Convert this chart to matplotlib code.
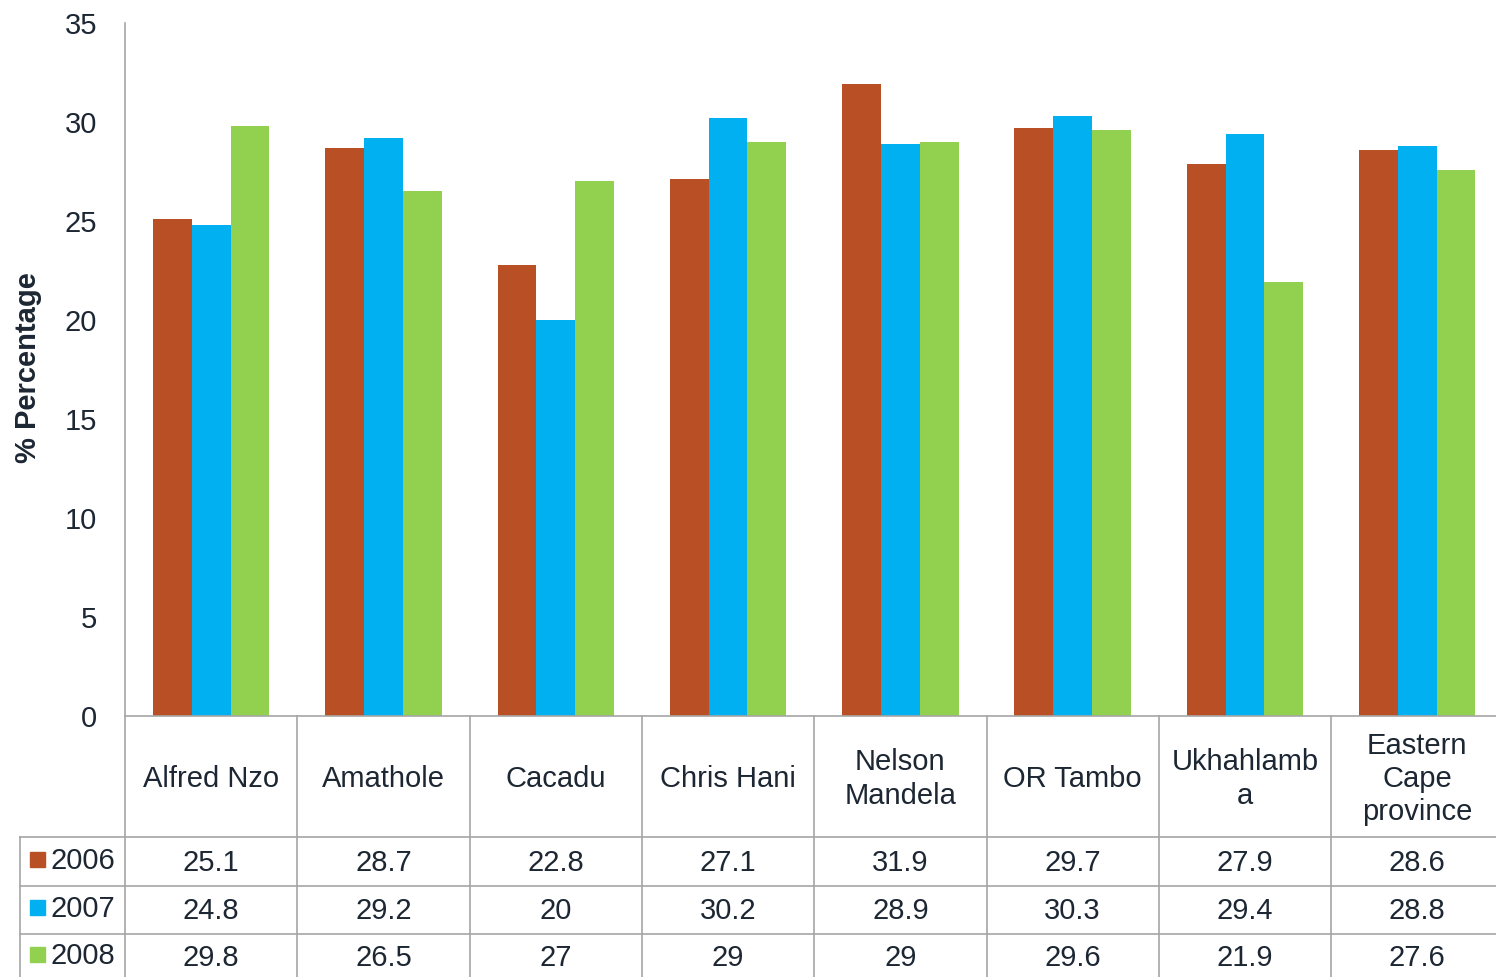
import numpy as np
import matplotlib.pyplot as plt
from matplotlib.transforms import blended_transform_factory
from matplotlib.patches import Rectangle

plt.rcParams['font.family'] = ['Liberation Sans', 'DejaVu Sans']

districts = ["Alfred Nzo", "Amathole", "Cacadu", "Chris Hani", "Nelson\nMandela",
             "OR Tambo", "Ukhahlamb\na", "Eastern\nCape\nprovince"]
years = ["2006", "2007", "2008"]
pct_2006 = [25.1, 28.7, 22.8, 27.1, 31.9, 29.7, 27.9, 28.6]
pct_2007 = [24.8, 29.2, 20, 30.2, 28.9, 30.3, 29.4, 28.8]
pct_2008 = [29.8, 26.5, 27, 29, 29, 29.6, 21.9, 27.6]
yticks = [0, 5, 10, 15, 20, 25, 30, 35]

colors = ["#B84F25", "#00B0F0", "#92D050"]
text_color = "#1c2733"
line_color = "#a6a6a6"

W, H = 1496, 977
fig = plt.figure(figsize=(W / 100, H / 100), dpi=100)

# plot area in pixels: left 125, top 23, bottom 716; the last column runs past the edge
col_px = 172.3
right_px = 125 + col_px * len(districts)
ax = fig.add_axes([125 / W, (H - 716) / H, (right_px - 125) / W, (716 - 23) / H])

x = np.arange(len(districts))
bw = 0.225
for i, vals in enumerate([pct_2006, pct_2007, pct_2008]):
    ax.bar(x + (i - 1) * bw, vals, width=bw, color=colors[i], linewidth=0)

ax.set_xlim(-0.5, len(districts) - 0.5)
ax.set_ylim(0, 35)
ax.set_yticks(yticks)
ax.set_xticks([])
ax.tick_params(axis='y', length=0, pad=20, labelsize=21, labelcolor=text_color)
for s in ["top", "right"]:
    ax.spines[s].set_visible(False)
ax.spines["left"].set_color(line_color)
ax.spines["bottom"].set_color(line_color)
ax.spines["left"].set_linewidth(1.2)
ax.spines["bottom"].set_linewidth(1.2)

fig.text(28 / W, 1 - 368 / H, "% Percentage", rotation=90, ha="center", va="center",
         fontsize=21, fontweight="bold", color=text_color)

# data table under the axis
tr = blended_transform_factory(ax.transData, fig.transFigure)
left_edge = -0.5 - (125 - 20) / col_px


def fy(py):
    return 1 - py / H


def hline(py, x0, x1):
    ax.plot([x0, x1], [fy(py), fy(py)], transform=tr, color=line_color,
            lw=1.2, clip_on=False)


def vline(xd, y0, y1):
    ax.plot([xd, xd], [fy(y0), fy(y1)], transform=tr, color=line_color,
            lw=1.2, clip_on=False)


for py in [837, 886, 934]:
    hline(py, left_edge, len(districts) - 0.5)
for k in range(len(districts) + 1):
    vline(k - 0.5, 716, 977)
vline(left_edge, 837, 977)

for k, name in enumerate(districts):
    ax.text(k, fy(779), name, transform=tr, ha="center", va="center",
            fontsize=21, color=text_color, linespacing=1.25, clip_on=False)

row_y = [863, 911, 958]
for r, vals in enumerate([pct_2006, pct_2007, pct_2008]):
    for k, v in enumerate(vals):
        ax.text(k, fy(row_y[r]), f"{v:g}", transform=tr, ha="center", va="center",
                fontsize=21, color=text_color, clip_on=False)
    fig.patches.append(Rectangle((30 / W, fy(row_y[r] + 4)), 15 / W, 15 / H,
                                 transform=fig.transFigure, color=colors[r]))
    fig.text(50 / W, fy(row_y[r] - 2), years[r], ha="left", va="center",
             fontsize=21, color=text_color)

fig.savefig("out.png", dpi=100)
